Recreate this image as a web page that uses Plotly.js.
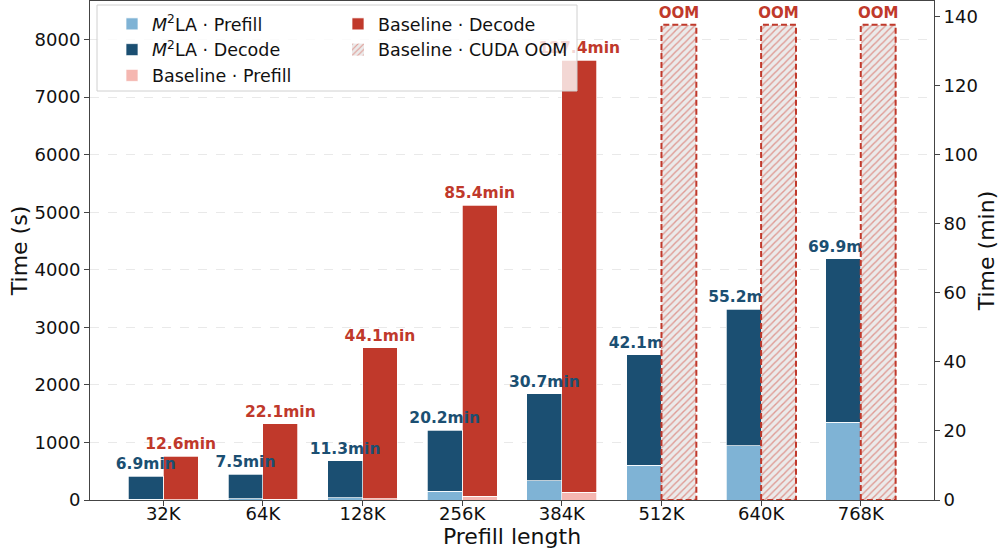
<!DOCTYPE html>
<html>
<head>
<meta charset="utf-8">
<script src="https://cdn.plot.ly/plotly-3.0.1.min.js"></script>
<style>html,body{margin:0;padding:0;background:#fff;}#chart{width:1003px;height:553px;}</style>
</head>
<body>
<div id="chart"></div>
<script>
// ---- data (seconds / minutes) ----
const categories = ['32K', '64K', '128K', '256K', '384K', '512K', '640K', '768K'];
const m2laPrefillSec = [10, 20, 40, 156, 335, 607, 942, 1354];
const m2laTotalMin = [6.9, 7.5, 11.3, 20.2, 30.7, 42.1, 55.2, 69.9];
const baselineCats = ['32K', '64K', '128K', '256K', '384K'];
const baselinePrefillSec = [5, 12, 25, 64, 139];
const baselineTotalMin = [12.6, 22.1, 44.1, 85.4, 127.4];
const oomCats = ['512K', '640K', '768K'];
const oomBarSec = [8256, 8256, 8256];
const yTicksSec = [0, 1000, 2000, 3000, 4000, 5000, 6000, 7000, 8000];
const yTicksMin = [0, 20, 40, 60, 80, 100, 120, 140];

// ---- styles ----
const C_M_PRE = '#7fb3d5', C_M_DEC = '#1b4f72', C_B_PRE = '#f5b7b1', C_B_DEC = '#c0392b';
const FONT = 'DejaVu Sans, sans-serif';
const W = 0.35, YMAX = 8670;

const idx = c => categories.indexOf(c);
const xM = categories.map((c, i) => i - W / 2);
const xB = baselineCats.map(c => idx(c) + W / 2);
const xO = oomCats.map(c => idx(c) + W / 2);

const m2laDecodeSec = m2laTotalMin.map((m, i) => m * 60 - m2laPrefillSec[i]);
const baselineDecodeSec = baselineTotalMin.map((m, i) => m * 60 - baselinePrefillSec[i]);
const edge = {color: 'rgba(255,255,255,0.9)', width: 0.8};

const traces = [
  {type: 'bar', name: 'Baseline · Prefill', x: xB, y: baselinePrefillSec, width: W,
   marker: {color: C_B_PRE, line: edge}, legend: 'legend', legendrank: 3, hoverinfo: 'skip'},
  {type: 'bar', name: 'Baseline · Decode', x: xB, y: baselineDecodeSec, width: W,
   marker: {color: C_B_DEC, line: edge}, legend: 'legend2', legendrank: 1, hoverinfo: 'skip',
   text: baselineTotalMin.map(m => m.toFixed(1) + 'min'), textposition: 'outside', constraintext: 'none',
   cliponaxis: false, outsidetextfont: {family: FONT, size: 15.5, color: C_B_DEC, weight: 'bold'}},
  {type: 'bar', name: '<i>M</i><sup>2</sup>LA · Prefill', x: xM, y: m2laPrefillSec, width: W,
   marker: {color: C_M_PRE, line: edge}, legend: 'legend', legendrank: 1, hoverinfo: 'skip'},
  {type: 'bar', name: '<i>M</i><sup>2</sup>LA · Decode', x: xM, y: m2laDecodeSec, width: W,
   marker: {color: C_M_DEC, line: edge}, legend: 'legend', legendrank: 2, hoverinfo: 'skip',
   text: m2laTotalMin.map(m => m.toFixed(1) + 'min'), textposition: 'outside', constraintext: 'none',
   cliponaxis: false, outsidetextfont: {family: FONT, size: 15.5, color: C_M_DEC, weight: 'bold'}},
  {type: 'bar', name: 'Baseline · CUDA OOM', x: xO, y: oomBarSec, width: W,
   marker: {color: '#ebeaea', line: {width: 0},
            pattern: {shape: '/', fillmode: 'overlay', fgcolor: '#d2493c', size: 5, solidity: 0.28}},
   legend: 'legend2', legendrank: 2, hoverinfo: 'skip',
   text: oomCats.map(() => 'OOM'), textposition: 'outside', constraintext: 'none', cliponaxis: false,
   outsidetextfont: {family: FONT, size: 15, color: C_B_DEC, weight: 'bold'}}
];

// dashed outline of the OOM bars
const ox = [], oy = [];
xO.forEach((xc, k) => {
  const a = xc - W / 2, b = xc + W / 2, h = oomBarSec[k];
  ox.push(a, a, b, b, a, null);
  oy.push(0, h, h, 0, 0, null);
});
traces.push({type: 'scatter', mode: 'lines', x: ox, y: oy, showlegend: false, hoverinfo: 'skip',
  line: {color: C_B_DEC, width: 2, dash: '6px,3px'}, cliponaxis: false});
// minute axis companion (invisible)
traces.push({type: 'scatter', mode: 'markers', x: xB, y: baselineTotalMin, yaxis: 'y2',
  marker: {opacity: 0}, showlegend: false, hoverinfo: 'skip'});

const plotL = 90, plotR = 934, plotT = 1, plotB = 500;
const pw = plotR - plotL, ph = plotB - plotT;
const px = v => (v - plotL) / pw, py = v => 1 - (v - plotT) / ph;

const layout = {
  width: 1003, height: 553,
  margin: {l: plotL, r: 1003 - plotR, t: plotT, b: 553 - plotB},
  paper_bgcolor: '#fff', plot_bgcolor: '#fff',
  font: {family: FONT, size: 18, color: '#111'},
  barmode: 'stack', bargap: 0,
  showlegend: true,
  xaxis: {range: [-0.735, 7.735], tickvals: categories.map((c, i) => i), ticktext: categories,
    showline: true, linecolor: '#444', linewidth: 1, mirror: true, ticks: 'outside', ticklen: 5,
    tickcolor: '#444', showgrid: false, zeroline: false, tickfont: {size: 18}, ticklabelstandoff: -8,
    title: {text: 'Prefill length', font: {size: 22}, standoff: 0}},
  yaxis: {range: [0, YMAX], tickvals: yTicksSec, showline: true, linecolor: '#444', linewidth: 1,
    ticks: 'outside', ticklen: 5, tickcolor: '#444', showgrid: true, gridcolor: '#e4e4e4',
    griddash: 'dash', gridwidth: 0.8, zeroline: false, tickfont: {size: 18},
    title: {text: 'Time (s)', font: {size: 22}, standoff: 0}},
  yaxis2: {range: [0, YMAX / 60], tickvals: yTicksMin, overlaying: 'y', side: 'right', anchor: 'x',
    showline: true, linecolor: '#444', linewidth: 1, ticks: 'outside', ticklen: 5, tickcolor: '#444',
    showgrid: false, zeroline: false, tickfont: {size: 18},
    title: {text: 'Time (min)', font: {size: 22}, standoff: 1}},
  legend: {x: px(112), y: py(6), xanchor: 'left', yanchor: 'top', bgcolor: 'rgba(0,0,0,0)',
    borderwidth: 0, font: {size: 17.5, color: '#111'}, tracegroupgap: 0, traceorder: 'normal'},
  legend2: {x: px(338), y: py(6), xanchor: 'left', yanchor: 'top', bgcolor: 'rgba(0,0,0,0)',
    borderwidth: 0, font: {size: 17.5, color: '#111'}, tracegroupgap: 0, traceorder: 'normal'},
  shapes: [{type: 'rect', xref: 'paper', yref: 'paper', x0: px(97), x1: px(577), y0: py(91), y1: py(5),
    fillcolor: 'rgba(255,255,255,0.8)', line: {color: '#d0d0d0', width: 1}, layer: 'above'}]
};

Plotly.newPlot('chart', traces, layout, {displayModeBar: false, staticPlot: true});
</script>
</body>
</html>
